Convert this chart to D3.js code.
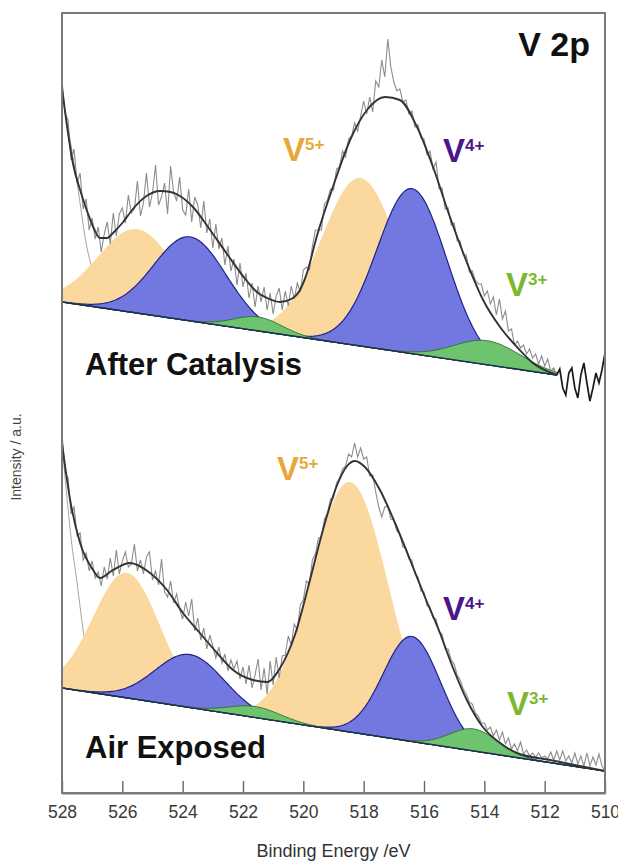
<!DOCTYPE html>
<html><head><meta charset="utf-8">
<script src="https://cdn.jsdelivr.net/npm/d3@7"></script>
<style>body{margin:0;background:#fff}svg{display:block}</style>
</head><body>
<svg id="c" width="618" height="865"></svg>
<script>
// ---------------- DATA ----------------
const energyTicks = [528, 526, 524, 522, 520, 518, 516, 514, 512, 510];
const rawStartBE = 528.0, rawStepBE = 0.1;
// raw spectrum, After Catalysis (528.0 -> 510.0 eV, 0.1 eV step)
const rawAfter = [
713,680,673,633,644,610,620,584,594,563,
575,554,566,541,559,571,549,580,557,579,
585,570,598,580,584,612,577,590,620,586,
600,628,588,596,610,579,627,601,592,616,
583,578,604,571,596,588,565,592,560,574,
545,569,544,555,528,547,522,534,508,530,
506,520,495,510,486,507,491,506,483,500,
479,497,505,483,502,487,507,494,510,501,
523,526,523,547,563,563,563,589,593,604,
603,624,626,642,636,654,657,670,662,677,
692,679,696,681,712,706,733,716,754,726,
711,702,704,691,693,679,682,666,668,655,
654,638,642,624,631,604,605,584,585,568,
570,552,552,538,538,521,522,513,509,509,
497,502,489,496,478,494,474,482,462,464,
448,452,445,448,439,444,435,439,429,437,
427,434,422,425,418,424,405,398,420,425,
405,395,418,430,410,392,405,420,410,423,
440];
// raw spectrum, Air Exposed
const rawAir = [
360,321,315,279,286,257,260,233,240,222,
232,215,221,207,226,214,235,217,243,219,
232,241,226,229,249,222,233,219,236,241,
213,222,208,234,201,196,212,190,199,184,
174,191,177,194,162,175,153,165,144,158,
147,135,146,130,139,122,133,124,132,114,
126,109,128,105,118,134,103,125,99,132,
108,136,115,137,138,157,148,169,163,188,
193,212,209,233,239,255,256,274,280,294,
295,310,315,324,327,339,336,350,336,345,
334,336,317,318,301,286,276,286,287,274,
273,262,259,246,245,234,233,219,216,202,
201,187,186,175,174,161,159,144,144,133,
129,118,113,104,99,91,89,80,77,70,
70,63,66,57,63,53,61,49,55,44,
49,42,51,39,43,37,40,36,40,35,
37,34,41,33,42,33,42,32,37,30,
40,29,37,27,40,27,36,28,39,27,
22];
const afterFitEndBE = 511.6;

// fitted envelopes
const envAfterBE  = [528.0,527.8,527.64,527.4,527.17,526.95,526.74,526.5,526.31,526.0,525.65,525.2,524.75,524.4,524.09,523.66,523.09,522.53,521.87,521.5,521.2,520.77,520.4,520.11,519.88,519.55,519.02,518.45,517.89,517.29,516.8,516.23,515.7,515.14,514.57,514.04,513.48,512.92,512.39,511.6];
const envAfterVal = [705,660,630,603,582,565,555,555,560,570,584,597,602,601,597,586,563,539,512,500,495,491,494,503,520,557,606,653,683,696,693,666,626,576,530,493,466,446,430,418];
const envAirBE  = [528.0,527.73,527.4,526.97,526.74,526.31,525.75,525.08,524.52,523.99,523.43,522.86,522.33,521.67,521.2,520.77,520.28,519.78,519.35,518.88,518.55,518.29,517.96,517.46,516.96,516.46,515.97,515.47,515.14,514.58,514.05,513.48,512.92,511.82,510.0];
const envAirVal = [350,293,250,223,215,223,230,220,203,180,160,140,123,113,111,125,158,213,263,308,327,332,326,303,270,233,196,160,133,93,66,50,40,33,22];

// total background (thin line)
const bgAfterBE  = [528.0,527.73,527.5,527.17,527.0,526.74,526.4,526.0,525.5];
const bgAfterVal = [700,653,610,545,524,500,490,484,480];
const bgAirBE  = [528.0,527.85,527.7,527.5,527.3,527.1,526.9,526.5,526.0,525.5];
const bgAirVal = [350,300,255,210,163,125,106,100,96,93.5];

// linear baselines (start, end)
const baseAfterBE = [528.0, 511.6], baseAfterVal = [491, 418];
const baseAirBE   = [528.0, 510.0], baseAirVal   = [105, 22];

// fitted components
const peakStates      = ["V5+","V4+","V3+","V5+","V4+","V3+"];
const peakAfterCenter = [525.5, 523.75, 521.5, 518.1, 516.4, 513.9];
const peakAfterHeight = [84, 84, 14, 168, 165, 24];
const peakAfterSigma  = [1.3, 1.2, 0.8, 1.3, 1.15, 1.1];
const peakAirCenter   = [525.85, 523.76, 521.6, 518.45, 516.4, 514.35];
const peakAirHeight   = [125, 53, 11, 250, 105, 22];
const peakAirSigma    = [1.12, 1.15, 0.85, 1.28, 0.95, 0.8];

// ---------------- DRAW ----------------
const L = 62, R = 605, T = 13, B = 793;
const svg = d3.select("#c");
const x = d3.scaleLinear().domain([528, 510]).range([L, R]);
const y = d3.scaleLinear().domain([0, 780]).range([B, T]);
const FONT = "'Liberation Sans', Arial, Helvetica, sans-serif";

svg.append("defs").append("clipPath").attr("id","clip")
  .append("rect").attr("x",L).attr("y",T).attr("width",R-L).attr("height",B-T);
const plot = svg.append("g").attr("clip-path","url(#clip)");

const stateFill   = {"V5+":"#FAD89E","V4+":"#7377E0","V3+":"#6DC36E"};
const stateStroke = {"V5+":"none","V4+":"#222288","V3+":"#2E6B30"};

function drawPanel(raw, envBE, envVal, bgBE, bgVal, baseBE, baseVal, cen, hei, sig, fitEnd, darkTail) {
  const base = d3.scaleLinear().domain(baseBE).range(baseVal);
  const energies = raw.map((_, i) => +(rawStartBE - i*rawStepBE).toFixed(2));
  plot.append("path")
    .datum(bgBE.map((e,i)=>[e,bgVal[i]]))
    .attr("d", d3.line().x(d=>x(d[0])).y(d=>y(d[1])).curve(d3.curveMonotoneX))
    .attr("fill","none").attr("stroke","#9a9a9a").attr("stroke-width",0.9);
  const grid = d3.range(528, fitEnd - 0.001, -0.05).concat([fitEnd]);
  ["V5+","V4+","V3+"].forEach(st => {
    peakStates.forEach((s, k) => {
      if (s !== st) return;
      const f = e => hei[k]*Math.exp(-((e-cen[k])**2)/(2*sig[k]*sig[k]));
      plot.append("path").datum(grid)
        .attr("d", d3.area().x(e=>x(e)).y0(e=>y(base(e))).y1(e=>y(base(e)+f(e))))
        .attr("fill", stateFill[s]).attr("stroke", stateStroke[s])
        .attr("stroke-width", s==="V4+"?1.2:0.9);
    });
  });
  plot.append("line")
    .attr("x1",x(baseBE[0])).attr("y1",y(baseVal[0]))
    .attr("x2",x(baseBE[1])).attr("y2",y(baseVal[1]))
    .attr("stroke","#1f2f52").attr("stroke-width",1.4);
  const pts = raw.map((v,i)=>[energies[i], v]);
  const ln = d3.line().x(d=>x(d[0])).y(d=>y(d[1]));
  const cut = darkTail ? energies.findIndex(e => e <= fitEnd + 1e-6) : pts.length-1;
  plot.append("path").datum(pts.slice(0, cut+1)).attr("d", ln)
    .attr("fill","none").attr("stroke","#8c8c8c").attr("stroke-width",1.1);
  if (darkTail) {
    plot.append("path").datum(pts.slice(cut)).attr("d", ln)
      .attr("fill","none").attr("stroke","#1a1a1a").attr("stroke-width",1.7);
  }
  plot.append("path")
    .datum(envBE.map((e,i)=>[e,envVal[i]]))
    .attr("d", d3.line().x(d=>x(d[0])).y(d=>y(d[1])).curve(d3.curveMonotoneX))
    .attr("fill","none").attr("stroke","#333").attr("stroke-width",1.9);
}

drawPanel(rawAfter, envAfterBE, envAfterVal, bgAfterBE, bgAfterVal, baseAfterBE, baseAfterVal,
          peakAfterCenter, peakAfterHeight, peakAfterSigma, afterFitEndBE, true);
drawPanel(rawAir, envAirBE, envAirVal, bgAirBE, bgAirVal, baseAirBE, baseAirVal,
          peakAirCenter, peakAirHeight, peakAirSigma, 510.0, false);

const ax = svg.append("g").attr("transform", `translate(0,${B})`)
  .call(d3.axisBottom(x).tickValues(energyTicks).tickSizeInner(-12).tickSizeOuter(0)
        .tickPadding(13).tickFormat(d3.format("d")));
ax.select(".domain").attr("stroke","#7a7a7a").attr("stroke-width",2);
ax.selectAll(".tick line").attr("stroke","#666").attr("stroke-width",1.4);
ax.selectAll(".tick text").attr("font-family",FONT).attr("font-size",17.5).attr("fill","#3a3a3a");

svg.append("rect").attr("x",L).attr("y",T).attr("width",R-L).attr("height",B-T)
  .attr("fill","none").attr("stroke","#7a7a7a").attr("stroke-width",2);

svg.append("text").attr("x",(L+R)/2).attr("y",857).attr("text-anchor","middle")
  .attr("font-family",FONT).attr("font-size",18).attr("fill","#333").text("Binding Energy /eV");
svg.append("text").attr("transform","translate(21,457) rotate(-90)").attr("text-anchor","middle")
  .attr("font-family",FONT).attr("font-size",14).attr("fill","#444").text("Intensity / a.u.");

function bold(t, xx, yy, size, anchor) {
  svg.append("text").attr("x",xx).attr("y",yy).attr("text-anchor",anchor||"start")
    .attr("font-family",FONT).attr("font-weight","bold").attr("font-size",size)
    .attr("fill","#111").text(t);
}
bold("V 2p", 590, 56, 34, "end");
bold("After Catalysis", 85, 375, 31);
bold("Air Exposed", 85, 758, 31);

const stateColor = {"V5+":"#E8A838","V4+":"#4B1689","V3+":"#7BB92C"};
const labelState = ["V5+","V4+","V3+","V5+","V4+","V3+"];
const labelX = [283, 443, 506, 277, 443, 507];
const labelY = [161, 162, 296, 480, 620, 715];
labelState.forEach((s, i) => {
  const t = svg.append("text").attr("x",labelX[i]).attr("y",labelY[i])
    .attr("font-family",FONT).attr("font-weight","bold").attr("fill",stateColor[s]);
  t.append("tspan").attr("font-size",33).text("V");
  t.append("tspan").attr("font-size",17).attr("dy",-11).text(s.slice(1));
});
</script>
</body></html>
